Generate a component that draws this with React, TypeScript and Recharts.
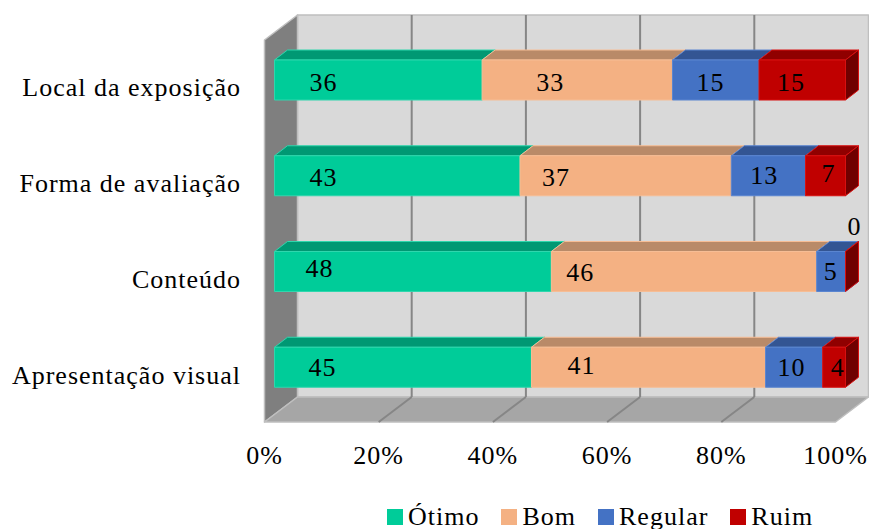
import { Bar, BarChart, CartesianGrid, Legend, LabelList, XAxis, YAxis } from "recharts";

const categories = ["Local da exposição", "Forma de avaliação", "Conteúdo", "Apresentação visual"];
const otimo = [36, 43, 48, 45];
const bom = [33, 37, 46, 41];
const regular = [15, 13, 5, 10];
const ruim = [15, 7, 0, 4];
const percentTicks = [0, 0.2, 0.4, 0.6, 0.8, 1];
const seriesNames = ["Ótimo", "Bom", "Regular", "Ruim"];

const rows = categories.map((name, i) => ({
  name,
  Ótimo: otimo[i],
  Bom: bom[i],
  Regular: regular[i],
  Ruim: ruim[i],
}));

const FONT = "'Liberation Serif', serif";
const FONT_SIZE = 26;
const TRACKING = 1;

// depth of the box and of the bars, as an x/y shift towards the back wall
const WALL_DX = 33;
const WALL_DY = 25;
const BAR_DX = 13;
const BAR_DY = 10;

const PLOT_LEFT = 274.5;
const PLOT_RIGHT = 845.5;
const PLOT_TOP = 32;
const PLOT_BOTTOM = 415;
const FRONT_SHIFT = -10; // floor front edge relative to the bars' front face
const FLOOR_FRONT_Y = 422;
const WALL_FRONT_TOP = 40;

const faces: Record<string, { front: string; top: string; side: string; edge: string }> = {
  Ótimo: { front: "#00cc99", top: "#009873", side: "#007a5c", edge: "#2fd6ad" },
  Bom: { front: "#f4b183", top: "#b98a68", side: "#96694c", edge: "#f6bd95" },
  Regular: { front: "#4472c4", top: "#335593", side: "#29457a", edge: "#5a85d0" },
  Ruim: { front: "#c00000", top: "#900000", side: "#700000", edge: "#d81010" },
};

// hand placement of each value inside its segment: x from the segment start, y from the row middle
const labelNudge: Record<string, { dx: number[]; dy: number[] }> = {
  Ótimo: { dx: [49, 49, 45, 48], dy: [2, 2, -3, 0] },
  Bom: { dx: [68, 36, 29, 50], dy: [2, 2, 1, -2] },
  Regular: { dx: [38, 33, 14, 26], dy: [2, 0, 0, 0] },
  Ruim: { dx: [32, 23, 9, 15], dy: [2, -2, -45, 0] },
};

const Box3D = (props: any) => {
  const { x, y, width, height, seriesKey } = props;
  const c = faces[seriesKey];
  const top = `${x},${y} ${x + BAR_DX},${y - BAR_DY} ${x + width + BAR_DX},${y - BAR_DY} ${x + width},${y}`;
  const side = `${x + width},${y} ${x + width + BAR_DX},${y - BAR_DY} ${x + width + BAR_DX},${y + height - BAR_DY} ${x + width},${y + height}`;
  return (
    <g stroke={c.edge} strokeWidth={1} strokeLinejoin="round">
      <polygon points={top} fill={c.top} />
      <polygon points={side} fill={c.side} />
      <rect x={x} y={y} width={width} height={height} fill={c.front} />
    </g>
  );
};

const valueLabel = (key: string) => (props: any) => {
  const { x, y, height, value, index } = props;
  return (
    <text
      x={x + labelNudge[key].dx[index]}
      y={y + height / 2 + labelNudge[key].dy[index]}
      textAnchor="middle"
      dominantBaseline="central"
      fontFamily={FONT}
      fontSize={FONT_SIZE}
      letterSpacing={TRACKING}
      fill="#000"
    >
      {value}
    </text>
  );
};

const Walls = () => {
  const l = PLOT_LEFT + FRONT_SHIFT;
  const r = PLOT_RIGHT + FRONT_SHIFT;
  const backTop = WALL_FRONT_TOP - WALL_DY;
  const backBottom = FLOOR_FRONT_Y - WALL_DY;
  return (
    <g stroke="#bfbfbf" strokeWidth={1.5} strokeLinejoin="round">
      <polygon points={`${l + WALL_DX},${backTop} ${r + WALL_DX},${backTop} ${r + WALL_DX},${backBottom} ${l + WALL_DX},${backBottom}`} fill="#d9d9d9" />
      <polygon points={`${l},${WALL_FRONT_TOP} ${l + WALL_DX},${backTop} ${l + WALL_DX},${backBottom} ${l},${FLOOR_FRONT_Y}`} fill="#7f7f7f" />
      <polygon points={`${l},${FLOOR_FRONT_Y} ${l + WALL_DX},${backBottom} ${r + WALL_DX},${backBottom} ${r},${FLOOR_FRONT_Y}`} fill="#a6a6a6" />
    </g>
  );
};

// the grid layer sits under everything, so the box walls are drawn from its first line
const GridLine = (props: any) => {
  const { x1, index } = props;
  if (index === 0) return <Walls />;
  if (index === percentTicks.length - 1) return <g />;
  const backX = x1 + WALL_DX + FRONT_SHIFT;
  const frontX = x1 + FRONT_SHIFT;
  const backBottom = FLOOR_FRONT_Y - WALL_DY;
  return (
    <g stroke="#868686" strokeWidth={2} fill="none">
      <line x1={backX} y1={WALL_FRONT_TOP - WALL_DY} x2={backX} y2={backBottom} />
      <line x1={backX} y1={backBottom} x2={frontX} y2={FLOOR_FRONT_Y} />
    </g>
  );
};

const PercentTick = (props: any) => {
  const { x, payload } = props;
  return (
    <text x={x + FRONT_SHIFT} y={455} textAnchor="middle" dominantBaseline="central" fontFamily={FONT} fontSize={FONT_SIZE} letterSpacing={TRACKING} fill="#000">
      {`${Math.round(payload.value * 100)}%`}
    </text>
  );
};

const CategoryTick = (props: any) => {
  const { y, payload } = props;
  return (
    <text x={241} y={y + 8} textAnchor="end" dominantBaseline="central" fontFamily={FONT} fontSize={FONT_SIZE} letterSpacing={TRACKING} fill="#000">
      {payload.value}
    </text>
  );
};

const LegendRow = () => (
  <div style={{ display: "flex", fontFamily: FONT, fontSize: FONT_SIZE, letterSpacing: TRACKING, lineHeight: "23px", color: "#000" }}>
    {seriesNames.map((name) => (
      <span key={name} style={{ display: "flex", alignItems: "center", marginRight: 22 }}>
        <span style={{ width: 16, height: 16, background: faces[name].front, marginRight: 5, display: "inline-block" }} />
        {name}
      </span>
    ))}
  </div>
);

export default function App() {
  return (
    <div style={{ position: "absolute", left: 0, top: 0, width: 869, height: 529 }}>
      <BarChart
        width={869}
        height={529}
        data={rows}
        layout="vertical"
        stackOffset="expand"
        barSize={40}
        margin={{ top: PLOT_TOP, right: 869 - PLOT_RIGHT, bottom: 0, left: 0 }}
      >
        <CartesianGrid horizontal={false} vertical={GridLine as any} />
        <XAxis
          type="number"
          domain={[0, 1]}
          ticks={percentTicks}
          height={529 - PLOT_BOTTOM}
          axisLine={false}
          tickLine={false}
          tick={PercentTick as any}
          interval={0}
        />
        <YAxis type="category" dataKey="name" width={PLOT_LEFT} axisLine={false} tickLine={false} tick={CategoryTick as any} interval={0} />
        {seriesNames.map((key) => (
          <Bar key={key} dataKey={key} stackId="a" isAnimationActive={false} fill={faces[key].front} shape={<Box3D seriesKey={key} />}>
            <LabelList dataKey={key} content={valueLabel(key) as any} />
          </Bar>
        ))}
        <Legend
          layout="horizontal"
          verticalAlign="middle"
          align="center"
          content={<LegendRow />}
          wrapperStyle={{ left: 387, top: 505, width: 470 }}
        />
      </BarChart>
    </div>
  );
}
